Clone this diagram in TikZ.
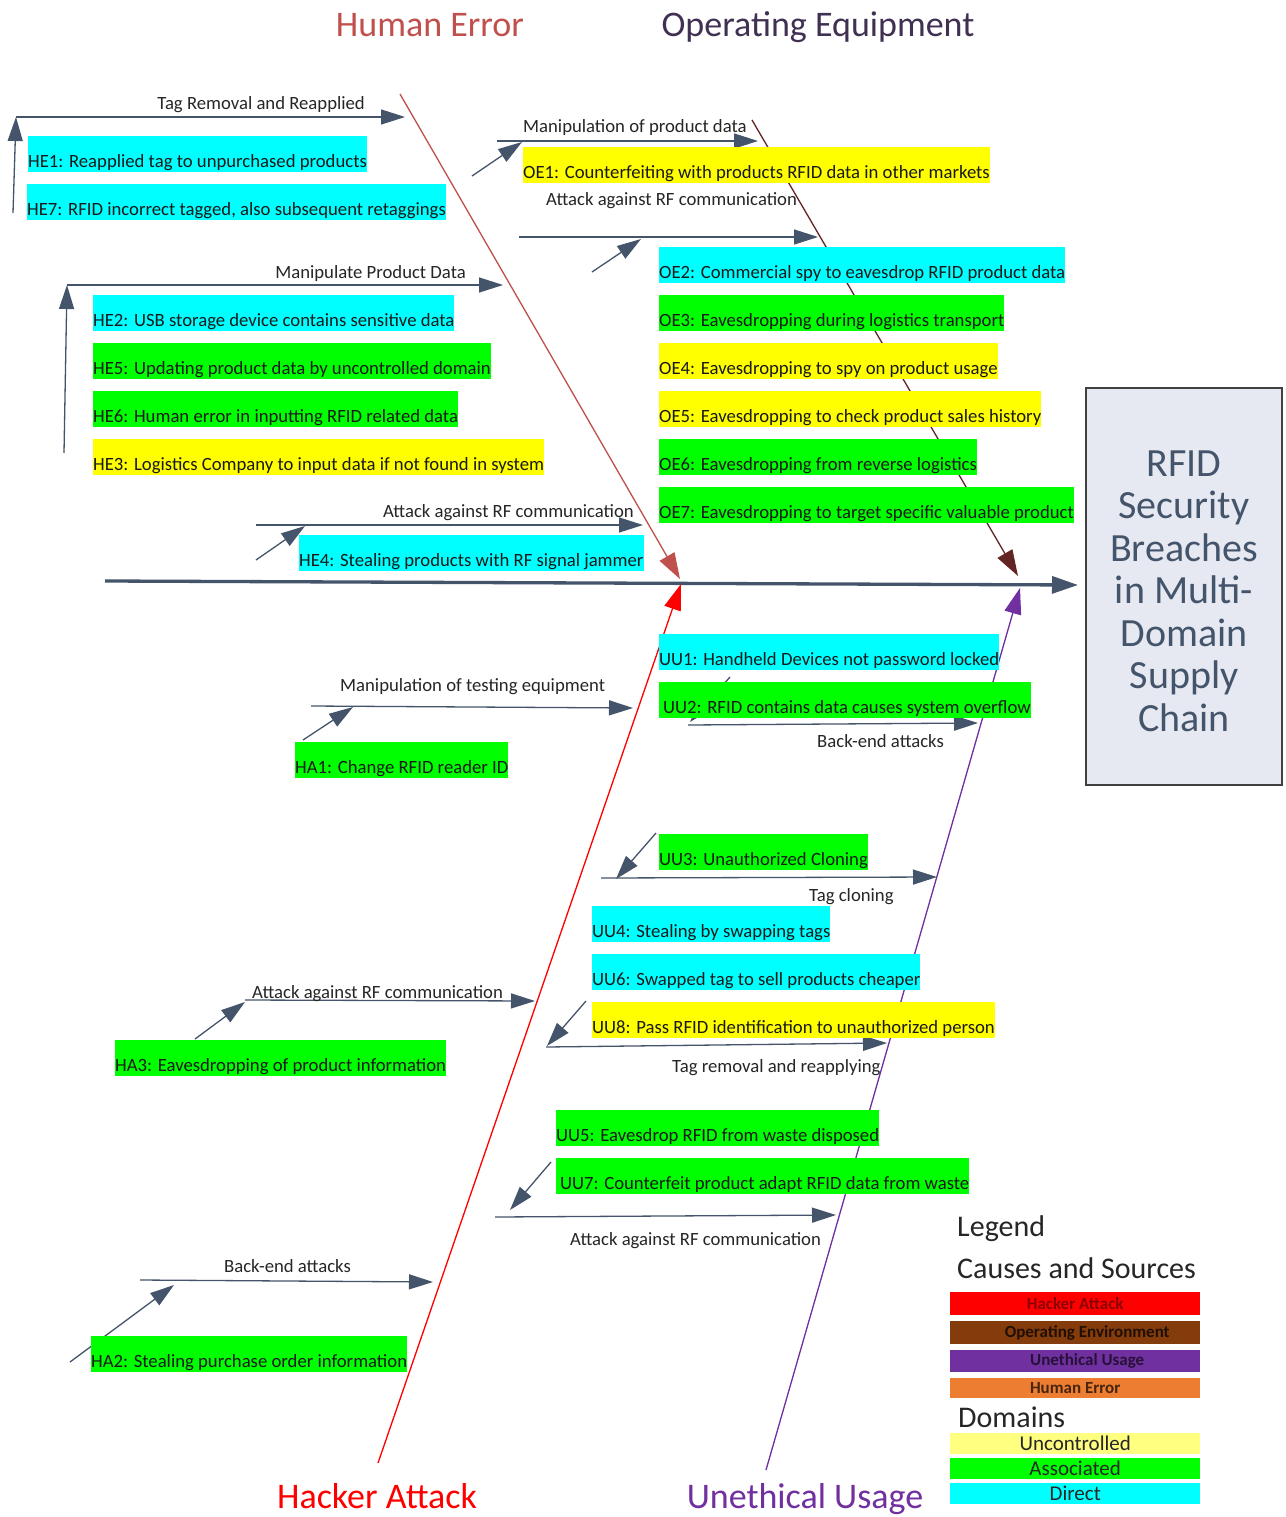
\documentclass[tikz,border=0pt]{standalone}
\usepackage{fontspec}
\setmainfont{Carlito}
\usetikzlibrary{arrows.meta}

\definecolor{slate}{HTML}{44546A}
\definecolor{heclr}{HTML}{C0504D}
\definecolor{oeclr}{HTML}{632523}
\definecolor{oetitle}{HTML}{403152}
\definecolor{haclr}{HTML}{FF0000}
\definecolor{uuclr}{HTML}{7030A0}
\definecolor{hlcyan}{HTML}{00FFFF}
\definecolor{hlgreen}{HTML}{00FF00}
\definecolor{hlyellow}{HTML}{FFFF00}
\definecolor{effbg}{HTML}{E6E9F1}
\definecolor{effborder}{HTML}{404040}
\definecolor{lgred}{HTML}{FF0000}
\definecolor{lgbrown}{HTML}{843C0C}
\definecolor{lgpurple}{HTML}{7030A0}
\definecolor{lgorange}{HTML}{ED7D31}
\definecolor{lgpale}{HTML}{FFFF80}

\begin{document}
\begin{tikzpicture}[x=1pt,y=-1pt,
  branch/.style={draw=slate, line width=1.3pt, -{Triangle[length=24pt,width=15pt]}},
  bone/.style={line width=1.3pt, -{Triangle[length=26pt,width=17pt]}},
  brtext/.style={font=\fontsize{18.7}{22}\selectfont, inner sep=0pt, text=black!85},
  cause/.style={font=\fontsize{18.7}{22}\selectfont, inner xsep=0pt, inner ysep=0pt,
    text height=31.5pt, text depth=4pt, anchor=south west, text=black!90},
  hldirect/.style={cause, fill=hlcyan},
  hlassoc/.style={cause, fill=hlgreen},
  hlunctl/.style={cause, fill=hlyellow},
  cattitle/.style={font=\fontsize{36}{40}\selectfont, inner sep=0pt, anchor=base},
  lgbar/.style={minimum width=250pt, inner sep=0pt, anchor=north west},
  lgsmall/.style={font=\fontsize{17}{18}\selectfont\bfseries},
  lgmid/.style={font=\fontsize{21}{22}\selectfont, text=black!85},
  lghead/.style={font=\fontsize{30}{32}\selectfont, inner sep=0pt, anchor=base west, text=black!85}
]
\useasboundingbox (0,0) rectangle (1285,1517);
\fill[white] (0,0) rectangle (1285,1517);

% ---------- category titles ----------
\node[cattitle, text=heclr]   (tHE) at (430,37)   {Human Error};
\node[cattitle, text=oetitle] (tOE) at (818,37)   {Operating Equipment};
\node[cattitle, text=haclr]   (tHA) at (377,1508) {Hacker Attack};
\node[cattitle, text=uuclr]   (tUU) at (805,1508) {Unethical Usage};

% ---------- effect box ----------
\node[draw=effborder, line width=2.5pt, fill=effbg, minimum width=196pt, minimum height=397pt,
      inner sep=0pt] (effect) at (1184,586.5) {};
\node[font=\fontsize{40}{42.5}\selectfont, text=slate, align=center, inner sep=0pt]
      (effecttext) at (1184,591) {RFID\\Security\\Breaches\\in Multi-\\Domain\\Supply\\Chain};

% ---------- spine and main bones ----------
\coordinate (spineL) at (105,581);
\coordinate (spineR) at (1078,585);
\draw[draw=slate, line width=3.3pt, -{Triangle[length=26pt,width=17pt]}] (spineL) -- (spineR);

\coordinate (heTop) at (400,94);    \coordinate (heTip) at (680,579);
\coordinate (oeTop) at (752,120);   \coordinate (oeTip) at (1018,576);
\coordinate (haBot) at (378,1463);  \coordinate (haTip) at (681,584);
\coordinate (uuBot) at (766,1470);  \coordinate (uuTip) at (1020,588);
\draw[bone, draw=heclr, fill=heclr] (heTop) -- (heTip);
\draw[bone, draw=oeclr, fill=oeclr] (oeTop) -- (oeTip);
\draw[bone, draw=haclr, fill=haclr] (haBot) -- (haTip);
\draw[bone, draw=uuclr, fill=uuclr] (uuBot) -- (uuTip);

% ---------- Human Error branches ----------
\coordinate (trA) at (16,117);  \coordinate (trB) at (405,117);  \coordinate (trV) at (13,213);
\draw[branch] (trA) -- (trB);
\draw[branch] (trV) -- (trA);
\node[brtext, anchor=base east] (trL) at (365,110) {Tag Removal and Reapplied};

\coordinate (mpA) at (67,285);  \coordinate (mpB) at (503,285);  \coordinate (mpV) at (64,453);
\draw[branch] (mpA) -- (mpB);
\draw[branch] (mpV) -- (mpA);
\node[brtext, anchor=base east] (mpL) at (466,278) {Manipulate Product Data};

\coordinate (hrA) at (256,525); \coordinate (hrB) at (643,525);
\coordinate (hrD) at (256,560); \coordinate (hrT) at (305,526);
\draw[branch] (hrA) -- (hrB);
\draw[branch] (hrD) -- (hrT);
\node[brtext, anchor=base east] (hrL) at (634,517) {Attack against RF communication};

% ---------- Operating Equipment branches ----------
\coordinate (omA) at (497,141); \coordinate (omB) at (758,141);
\coordinate (omD) at (472,176); \coordinate (omT) at (522,142);
\draw[branch] (omA) -- (omB);
\draw[branch] (omD) -- (omT);
\node[brtext, anchor=base west] (omL) at (523,133) {Manipulation of product data};

\coordinate (orA) at (519,237); \coordinate (orB) at (818,237);
\coordinate (orD) at (592,272); \coordinate (orT) at (641,239);
\draw[branch] (orA) -- (orB);
\draw[branch] (orD) -- (orT);
\node[brtext, anchor=base west] (orL) at (546,206) {Attack against RF communication};

% ---------- Hacker Attack branches ----------
\coordinate (htA) at (311,706); \coordinate (htB) at (633,708);
\coordinate (htD) at (303,740); \coordinate (htT) at (353,707);
\draw[branch] (htA) -- (htB);
\draw[branch] (htD) -- (htT);
\node[brtext, anchor=base west] (htL) at (340,691) {Manipulation of testing equipment};

\coordinate (haA) at (245,1000); \coordinate (haB) at (535,1001);
\coordinate (haD) at (195,1039); \coordinate (haT) at (245,1002);
\draw[branch] (haA) -- (haB);
\draw[branch] (haD) -- (haT);
\node[brtext, anchor=base west] (haL) at (252,998) {Attack against RF communication};

\coordinate (hbA) at (140,1280); \coordinate (hbB) at (433,1282);
\coordinate (hbD) at (70,1362);  \coordinate (hbT) at (174,1285);
\draw[branch] (hbA) -- (hbB);
\draw[branch] (hbD) -- (hbT);
\node[brtext, anchor=base west] (hbL) at (224,1272) {Back-end attacks};

% ---------- Unethical Usage branches ----------
\coordinate (ubA) at (688,725); \coordinate (ubB) at (978,723);
\coordinate (ubD) at (730,677); \coordinate (ubT) at (690,722);
\draw[branch] (ubA) -- (ubB);
\draw[branch] (ubD) -- (ubT);
\node[brtext, anchor=base west] (ubL) at (817,747) {Back-end attacks};

\coordinate (ucA) at (601,878); \coordinate (ucB) at (937,877);
\coordinate (ucD) at (656,833); \coordinate (ucT) at (616,879);
\draw[branch] (ucA) -- (ucB);
\draw[branch] (ucD) -- (ucT);
\node[brtext, anchor=base west] (ucL) at (809,901) {Tag cloning};

\coordinate (urA) at (546,1047); \coordinate (urB) at (887,1043);
\coordinate (urD) at (586,1001); \coordinate (urT) at (547,1046);
\draw[branch] (urA) -- (urB);
\draw[branch] (urD) -- (urT);
\node[brtext, anchor=base west] (urL) at (672,1072) {Tag removal and reapplying};

\coordinate (uwA) at (495,1217); \coordinate (uwB) at (836,1215);
\coordinate (uwD) at (551,1162); \coordinate (uwT) at (510,1210);
\draw[branch] (uwA) -- (uwB);
\draw[branch] (uwD) -- (uwT);
\node[brtext, anchor=base west] (uwL) at (570,1245) {Attack against RF communication};

% ---------- cause boxes ----------
\node[hldirect] (HE1) at (28,172)  {HE1: Reapplied tag to unpurchased products};
\node[hldirect] (HE7) at (27,220)  {HE7: RFID incorrect tagged, also subsequent retaggings};
\node[hldirect] (HE2) at (93,331)  {HE2: USB storage device contains sensitive data};
\node[hlassoc]  (HE5) at (93,379)  {HE5: Updating product data by uncontrolled domain};
\node[hlassoc]  (HE6) at (93,427)  {HE6: Human error in inputting RFID related data};
\node[hlunctl]  (HE3) at (93,475)  {HE3: Logistics Company to input data if not found in system};
\node[hldirect] (HE4) at (299,571) {HE4: Stealing products with RF signal jammer};

\node[hlunctl]  (OE1) at (523,183) {OE1: Counterfeiting with products RFID data in other markets};
\node[hldirect] (OE2) at (659,283) {OE2: Commercial spy to eavesdrop RFID product data};
\node[hlassoc]  (OE3) at (659,331) {OE3: Eavesdropping during logistics transport};
\node[hlunctl]  (OE4) at (659,379) {OE4: Eavesdropping to spy on product usage};
\node[hlunctl]  (OE5) at (659,427) {OE5: Eavesdropping to check product sales history};
\node[hlassoc]  (OE6) at (659,475) {OE6: Eavesdropping from reverse logistics};
\node[hlassoc]  (OE7) at (659,523) {OE7: Eavesdropping to target specific valuable product};

\node[hldirect] (UU1) at (659,670) {UU1: Handheld Devices not password locked};
\node[hlassoc]  (UU2) at (659,718) {\hspace*{4pt}UU2: RFID contains data causes system overflow};
\node[hlassoc]  (HA1) at (295,778) {HA1: Change RFID reader ID};
\node[hlassoc]  (UU3) at (659,870) {UU3: Unauthorized Cloning};
\node[hldirect] (UU4) at (592,942) {UU4: Stealing by swapping tags};
\node[hldirect] (UU6) at (592,990) {UU6: Swapped tag to sell products cheaper};
\node[hlunctl]  (UU8) at (592,1038) {UU8: Pass RFID identification to unauthorized person};
\node[hlassoc]  (HA3) at (115,1076) {HA3: Eavesdropping of product information};
\node[hlassoc]  (UU5) at (556,1146) {UU5: Eavesdrop RFID from waste disposed};
\node[hlassoc]  (UU7) at (556,1194) {\hspace*{4pt}UU7: Counterfeit product adapt RFID data from waste};
\node[hlassoc]  (HA2) at (91,1372) {HA2: Stealing purchase order information};

% ---------- legend ----------
\node[lghead] (lgTitle) at (957,1236) {Legend};
\node[lghead] (lgCause) at (957,1278) {Causes and Sources};
\node[lgbar, lgsmall, fill=lgred,    minimum height=23pt, text=red!55!black]
  (lgHA) at (950,1292) {Hacker Attack};
\node[lgbar, lgsmall, fill=lgbrown,  minimum height=23pt, text=black!75!lgbrown]
  (lgOE) at (950,1321) {\hspace*{24pt}Operating Environment};
\node[lgbar, lgsmall, fill=lgpurple, minimum height=22pt, text=black!65!lgpurple]
  (lgUU) at (950,1350) {\hspace*{24pt}Unethical Usage};
\node[lgbar, lgsmall, fill=lgorange, minimum height=20pt, text=black!70!lgorange]
  (lgHE) at (950,1378) {Human Error};
\node[lghead] (lgDom) at (958,1427) {Domains};
\node[lgbar, lgmid, fill=lgpale,  minimum height=21pt] (lgU) at (950,1433) {Uncontrolled};
\node[lgbar, lgmid, fill=hlgreen, minimum height=21pt] (lgA) at (950,1458) {Associated};
\node[lgbar, lgmid, fill=hlcyan,  minimum height=21pt] (lgD) at (950,1483) {Direct};
\end{tikzpicture}
\end{document}
